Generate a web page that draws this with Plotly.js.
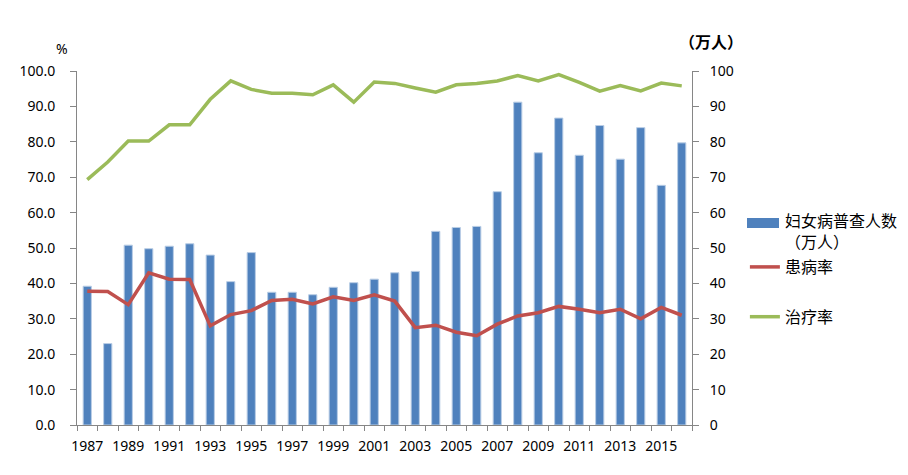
<!DOCTYPE html>
<html><head><meta charset="utf-8">
<script src="https://cdn.plot.ly/plotly-3.0.1.min.js"></script>
<style>html,body{margin:0;padding:0;background:#fff}#chart{width:908px;height:475px}</style>
</head><body><div id="chart"></div>
<script>
const years = ['1987','1988','1989','1990','1991','1992','1993','1994','1995','1996','1997','1998','1999','2000','2001','2002','2003','2004','2005','2006','2007','2008','2009','2010','2011','2012','2013','2014','2015','2016'];
const screened = [39.2,23.0,50.8,49.8,50.5,51.2,48.0,40.5,48.7,37.5,37.5,36.8,38.9,40.2,41.2,43.0,43.4,54.7,55.8,56.1,65.9,91.2,76.9,86.7,76.2,84.6,75.1,84.0,67.7,79.7];
const prevalence = [37.8,37.7,34.0,43.0,41.2,41.1,28.0,31.2,32.3,35.2,35.5,34.2,36.2,35.2,36.8,35.0,27.5,28.2,26.2,25.2,28.5,30.8,31.7,33.5,32.7,31.7,32.7,30.0,33.2,31.0];
const treatment = [69.3,74.3,80.2,80.2,84.8,84.8,92.0,97.2,94.8,93.7,93.7,93.3,96.1,91.2,96.9,96.5,95.2,94.0,96.1,96.5,97.2,98.7,97.2,99.0,96.8,94.3,95.9,94.4,96.6,95.8];
const tickText = years.map((y,i)=> i%2===0 ? y : '');
const names = ['妇女病普查人数<br>（万人）','患病率','治疗率'];

const fam = '"Noto Sans","Noto Sans CJK SC",sans-serif';
const font = {family:fam, size:14, color:'#000'};
const traces = [
  {type:'bar', x:years, y:screened, name:names[0], yaxis:'y', showlegend:false,
   marker:{color:'#4f81bd', line:{color:'#b9cde5', width:1}}},
  {type:'scatter', mode:'lines', x:years, y:prevalence, name:names[1], yaxis:'y2', legendgroup:'b',
   line:{color:'#c0504d', width:3.5}},
  {type:'scatter', mode:'lines', x:years, y:treatment, name:names[2], yaxis:'y2', legendgroup:'c',
   line:{color:'#9bbb59', width:3.5}}
];
const axisCommon = {range:[0,100], dtick:10, tick0:0, showgrid:false, zeroline:false,
  showline:true, linecolor:'#868686', linewidth:1, ticks:'outside', ticklen:6, tickcolor:'#868686', tickfont:font};
const px = v => (v-77)/615, py = v => (425-v)/354;
const layout = {
  width:908, height:475, margin:{l:77, r:216, t:71, b:50},
  paper_bgcolor:'#fff', plot_bgcolor:'#fff', font:font,
  bargap:0.6, showlegend:true,
  xaxis:{type:'category', tickvals:years, ticktext:tickText, tickson:'boundaries',
    showline:true, linecolor:'#868686', ticks:'outside', ticklen:5, tickcolor:'#868686',
    showgrid:false, tickfont:font, tickangle:0, ticklabelstandoff:8},
  yaxis:Object.assign({}, axisCommon, {side:'right', tickformat:'d', ticklabelstandoff:8}),
  yaxis2:Object.assign({}, axisCommon, {side:'left', overlaying:'y', tickformat:'.1f', ticklabelstandoff:12}),
  legend:{x:1.086, xanchor:'left', y:py(250), yanchor:'top', traceorder:'grouped', tracegroupgap:26,
    font:{family:fam, size:16, color:'#000'}, itemwidth:30, bgcolor:'rgba(0,0,0,0)'},
  shapes:[
    {type:'rect', xref:'paper', yref:'paper', x0:px(747), x1:px(779), y0:py(228), y1:py(218),
     fillcolor:'#4f81bd', line:{width:0}, layer:'above'}
  ],
  annotations:[
    {text:'%', xref:'paper', yref:'paper', x:-0.025, y:1.03, xanchor:'center', yanchor:'bottom', showarrow:false, font:{family:fam,size:14,color:'#000'}},
    {text:'<b>（万人）</b>', xref:'paper', yref:'paper', x:px(711), y:1.045, xanchor:'center', yanchor:'bottom', showarrow:false, font:{family:fam,size:16,color:'#000'}},
    {text:names[0], xref:'paper', yref:'paper', x:px(783), y:py(208), xanchor:'left', yanchor:'top', align:'left', showarrow:false, font:{family:fam,size:16,color:'#000'}}
  ]
};
Plotly.newPlot('chart', traces, layout, {displayModeBar:false, staticPlot:true});
</script></body></html>
